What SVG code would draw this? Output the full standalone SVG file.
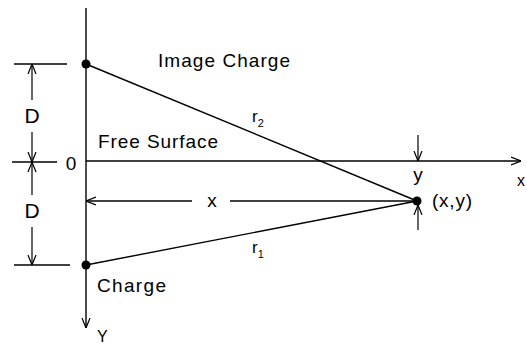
<svg xmlns="http://www.w3.org/2000/svg" width="527" height="345" viewBox="0 0 527 345">
  <style>
    .ln { stroke: #000; stroke-width: 1.4; fill: none; }
    .thin { stroke: #000; stroke-width: 1.2; fill: none; }
    .t { font-family: "Liberation Sans", Arial, sans-serif; font-size: 19px; fill: #000; }
    .dot { fill: #000; }
  </style>
  <defs>
    <marker id="arr" viewBox="0 0 10 10" refX="10" refY="5" markerWidth="10" markerHeight="10" markerUnits="userSpaceOnUse" orient="auto">
      <path d="M0,1 L10,5 L0,9" fill="none" stroke="#000" stroke-width="1.2"/>
    </marker>
  </defs>
  <rect width="527" height="345" fill="#fff"/>

  <g id="connectors">
    <line class="ln" x1="86" y1="8" x2="86" y2="328" marker-end="url(#arr)"/>
    <line class="ln" x1="86" y1="161" x2="521" y2="161" marker-end="url(#arr)"/>
    <line class="ln" x1="86" y1="64" x2="417" y2="201"/>
    <line class="ln" x1="86" y1="265" x2="417" y2="201"/>
    <line class="ln" x1="192" y1="201" x2="86" y2="201" marker-end="url(#arr)"/>
    <line class="ln" x1="230" y1="201" x2="414" y2="201"/>
    <line class="thin" x1="418" y1="135" x2="418" y2="161" marker-end="url(#arr)"/>
    <line class="thin" x1="418" y1="230" x2="418" y2="205" marker-end="url(#arr)"/>
    <line class="ln" x1="14" y1="64" x2="67" y2="64"/>
    <line class="ln" x1="12" y1="162" x2="57" y2="162"/>
    <line class="ln" x1="14" y1="265" x2="70" y2="265"/>
    <line class="thin" x1="32" y1="100" x2="32" y2="64" marker-end="url(#arr)"/>
    <line class="thin" x1="32" y1="132" x2="32" y2="162" marker-end="url(#arr)"/>
    <line class="thin" x1="32" y1="195" x2="32" y2="162" marker-end="url(#arr)"/>
    <line class="thin" x1="32" y1="227" x2="32" y2="265" marker-end="url(#arr)"/>
  </g>

  <g id="image-charge">
    <circle class="dot" cx="86" cy="64" r="4.5"/>
    <text class="t" x="158" y="67" textLength="132" lengthAdjust="spacing">Image Charge</text>
  </g>
  <g id="charge">
    <circle class="dot" cx="86" cy="265" r="4.5"/>
    <text class="t" x="97" y="292" textLength="69" lengthAdjust="spacing">Charge</text>
  </g>
  <g id="point">
    <circle class="dot" cx="417" cy="201" r="4.5"/>
    <text class="t" x="432" y="207" textLength="40" lengthAdjust="spacing">(x,y)</text>
  </g>
  <g id="labels">
    <text class="t" x="98" y="148" textLength="120" lengthAdjust="spacing">Free Surface</text>
    <text class="t" x="71" y="170" text-anchor="middle">0</text>
    <text class="t" x="32" y="123" text-anchor="middle" style="font-size:21px">D</text>
    <text class="t" x="32" y="218" text-anchor="middle" style="font-size:21px">D</text>
    <text class="t" x="212" y="207" text-anchor="middle">x</text>
    <text class="t" x="418" y="181" text-anchor="middle">y</text>
    <text class="t" x="517" y="186" style="font-size:16px">x</text>
    <text class="t" x="97" y="342" style="font-size:16px">Y</text>
    <text class="t" x="252" y="122" style="font-size:17px">r<tspan dy="5" style="font-size:11px">2</tspan></text>
    <text class="t" x="252" y="253" style="font-size:17px">r<tspan dy="5" style="font-size:11px">1</tspan></text>
  </g>
</svg>
